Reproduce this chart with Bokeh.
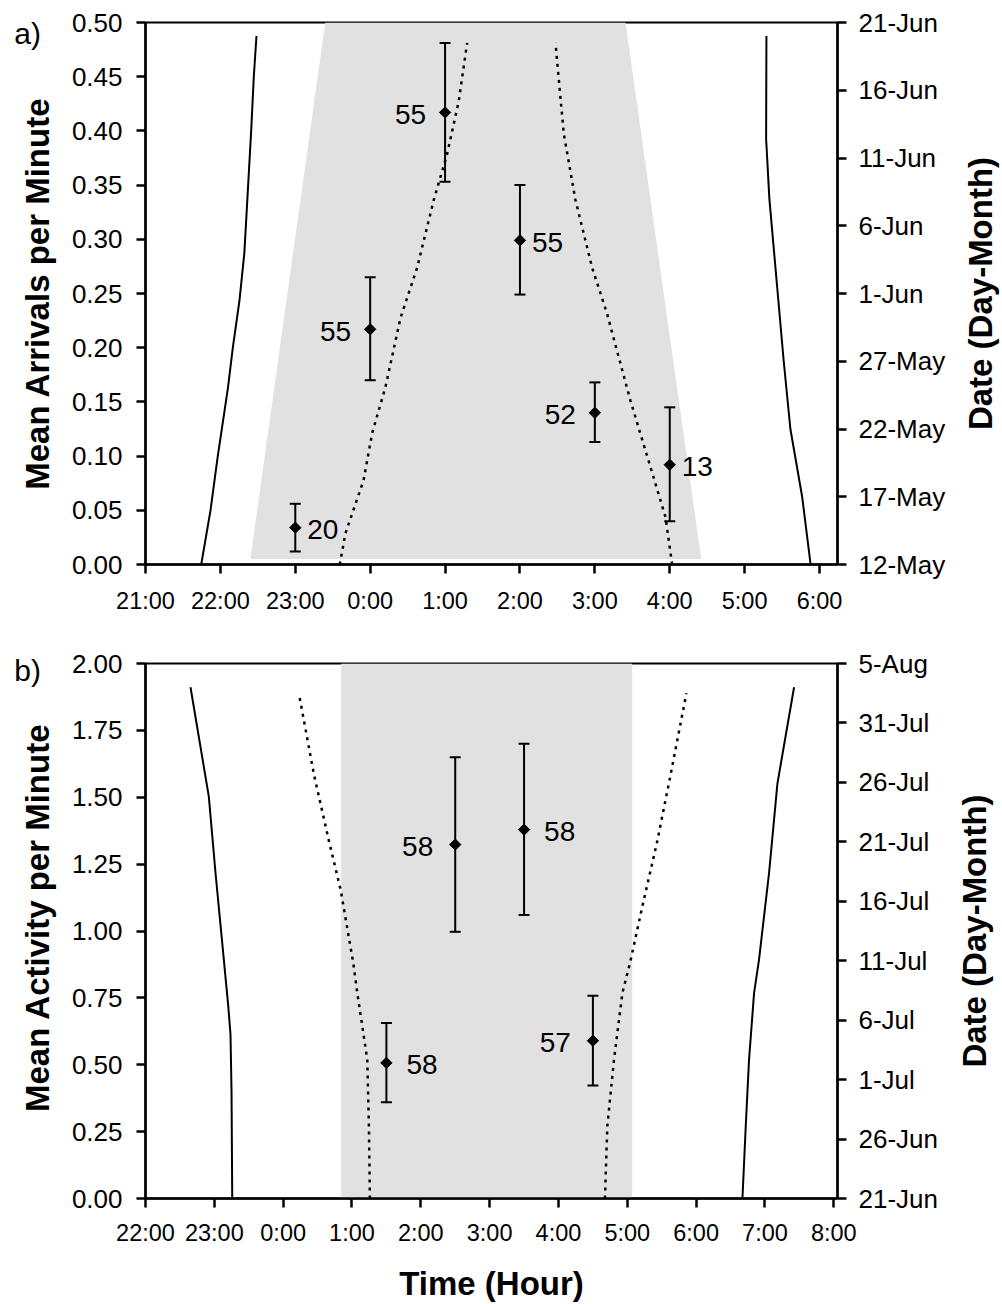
import math
from bokeh.plotting import figure
from bokeh.layouts import column
from bokeh.models import (Range1d, LinearAxis, FixedTicker, ColumnDataSource,
                          Whisker, TeeHead, Label, BoxAnnotation, NumeralTickFormatter)
from bokeh.embed import file_html
from bokeh.resources import INLINE
from bokeh.core.properties import value

FONT = "Liberation Sans"

# ---------------- Panel a data ----------------
a_hour = [23, 24, 25, 26, 27, 28]
a_mean = [0.034, 0.217, 0.417, 0.299, 0.140, 0.092]
a_upper = [0.056, 0.265, 0.481, 0.350, 0.168, 0.145]
a_lower = [0.012, 0.170, 0.353, 0.249, 0.113, 0.040]
a_n = ["20", "55", "55", "55", "52", "13"]
a_side = ["right", "left", "left", "right", "left", "right"]

a_xticks = [21, 22, 23, 24, 25, 26, 27, 28, 29, 30]
a_xlabels = ["21:00", "22:00", "23:00", "0:00", "1:00", "2:00", "3:00", "4:00", "5:00", "6:00"]
a_yticks = [0, 0.05, 0.1, 0.15, 0.2, 0.25, 0.3, 0.35, 0.4, 0.45, 0.5]
a_date_ticks = [0, 5, 10, 15, 20, 25, 30, 35, 40]
a_date_labels = ["12-May", "17-May", "22-May", "27-May", "1-Jun", "6-Jun", "11-Jun", "16-Jun", "21-Jun"]

# night shading (hours, arrivals)
a_night_x = [22.40, 23.40, 27.41, 28.42]
a_night_y = [0.005, 0.50, 0.50, 0.005]

# solid lines (days since 12-May)
a_set_time = [21.744, 21.868, 21.965, 22.100, 22.166, 22.255, 22.320, 22.411, 22.446, 22.482]
a_set_day = [0, 4, 8, 13, 16, 19.5, 23, 32, 36, 39]
a_rise_time = [29.881, 29.768, 29.611, 29.522, 29.434, 29.330, 29.287, 29.291]
a_rise_day = [0, 5, 10, 15, 20.5, 27, 31.4, 39]
# dotted lines
a_dusk_time = [23.594, 23.670, 23.911, 24.027, 24.204, 24.405, 24.627, 24.849, 25.028, 25.183, 25.295]
a_dusk_day = [0, 2.3, 6.2, 9.7, 13.1, 18.2, 21.9, 26.9, 30.3, 34.2, 38.5]
a_dawn_time = [28.032, 27.943, 27.742, 27.475, 27.231, 27.164, 26.964, 26.741, 26.585, 26.474]
a_dawn_day = [0, 3.5, 7.2, 12.1, 17.1, 18.5, 21.9, 26.9, 31.8, 38.5]

# ---------------- Panel b data ----------------
b_hour = [25.5, 26.5, 27.5, 28.5]
b_mean = [0.507, 1.323, 1.379, 0.590]
b_upper = [0.656, 1.650, 1.700, 0.758]
b_lower = [0.360, 0.997, 1.060, 0.422]
b_n = ["58", "58", "58", "57"]
b_side = ["right", "left", "right", "left"]

b_xticks = [22, 23, 24, 25, 26, 27, 28, 29, 30, 31, 32]
b_xlabels = ["22:00", "23:00", "0:00", "1:00", "2:00", "3:00", "4:00", "5:00", "6:00", "7:00", "8:00"]
b_yticks = [0, 0.25, 0.5, 0.75, 1.0, 1.25, 1.5, 1.75, 2.0]
b_date_ticks = [0, 5, 10, 15, 20, 25, 30, 35, 40, 45]
b_date_labels = ["21-Jun", "26-Jun", "1-Jul", "6-Jul", "11-Jul", "16-Jul", "21-Jul", "26-Jul", "31-Jul", "5-Aug"]

b_night_start = 24.843
b_night_end = 29.071

b_set_time = [23.260, 23.250, 23.235, 23.202, 23.138, 23.017, 22.920, 22.654]
b_set_day = [0, 8.9, 13.8, 16.2, 20.1, 27.4, 33.8, 43.0]
b_rise_time = [30.673, 30.721, 30.769, 30.842, 30.914, 31.060, 31.181, 31.423]
b_rise_day = [0, 6.1, 11.7, 17.3, 20.1, 27.4, 34.9, 43.0]
b_dusk_time = [25.260, 25.246, 25.222, 25.077, 25.019, 24.834, 24.664, 24.446, 24.228]
b_dusk_day = [0, 6.1, 11.7, 17.3, 19.8, 26.0, 30.1, 35.7, 42.5]
b_dawn_time = [28.675, 28.710, 28.807, 28.929, 29.039, 29.220, 29.437, 29.631, 29.859]
b_dawn_day = [0, 6.1, 11.7, 17.3, 19.8, 24.6, 30.1, 35.7, 42.5]

SHADE = "#e1e1e1"


def style_axis(ax, standoff, size="26px"):
    ax.axis_line_width = 2.5
    ax.axis_line_color = "black"
    ax.major_tick_line_width = 2.5
    ax.major_tick_line_color = "black"
    ax.major_tick_out = 9
    ax.major_tick_in = 0
    ax.minor_tick_line_color = None
    ax.major_label_text_font = FONT
    ax.major_label_text_font_size = size
    ax.major_label_text_color = "black"
    ax.major_label_standoff = standoff
    ax.axis_label_text_font = FONT
    ax.axis_label_text_font_size = "33px"
    ax.axis_label_text_font_style = "bold"
    ax.axis_label_text_color = "black"


def make_panel(width, height, xr, yr, dr, xticks, xlabels, yticks,
               dticks, dlabels, xlabel, borders, xstandoff):
    p = figure(width=width, height=height, x_range=Range1d(*xr), y_range=Range1d(*yr),
               output_backend="svg", toolbar_location=None, tools="")
    p.min_border_left, p.min_border_right, p.min_border_top, p.min_border_bottom = borders
    p.xgrid.visible = False
    p.ygrid.visible = False
    p.outline_line_color = "black"
    p.outline_line_width = 2
    p.background_fill_color = "white"
    p.border_fill_color = "white"
    p.extra_y_ranges = {"date": Range1d(*dr)}

    xa = p.xaxis[0]
    xa.ticker = FixedTicker(ticks=xticks)
    xa.major_label_overrides = {t: s for t, s in zip(xticks, xlabels)}
    style_axis(xa, xstandoff, "23.5px")
    if xlabel:
        xa.axis_label = xlabel
        xa.axis_label_standoff = 16

    ya = p.yaxis[0]
    ya.ticker = FixedTicker(ticks=yticks)
    ya.formatter = NumeralTickFormatter(format="0.00")
    style_axis(ya, 14)

    ra = LinearAxis(y_range_name="date")
    ra.ticker = FixedTicker(ticks=dticks)
    ra.major_label_overrides = {t: s for t, s in zip(dticks, dlabels)}
    style_axis(ra, 12)
    p.add_layout(ra, "right")
    return p


def draw_points(p, hours, mean, upper, lower, ns, sides, left_off, right_off):
    src = ColumnDataSource(dict(x=hours, mean=mean, upper=upper, lower=lower))
    w = Whisker(source=src, base="x", upper="upper", lower="lower",
                line_width=2, line_color="black", level="annotation",
                upper_head=TeeHead(size=11, line_width=2, line_color="black"),
                lower_head=TeeHead(size=11, line_width=2, line_color="black"))
    p.add_layout(w)
    p.scatter("x", "mean", source=src, marker="square", angle=math.pi / 4,
              size=8, fill_color="black", line_color="black")
    for side, align, off in (("left", "right", left_off), ("right", "left", right_off)):
        idx = [i for i, s in enumerate(sides) if s == side]
        p.text(x=[hours[i] for i in idx], y=[mean[i] for i in idx],
               text=[ns[i] for i in idx], x_offset=off, y_offset=2,
               text_font=value(FONT), text_font_size="28px", text_color="black",
               text_align=align, text_baseline="middle")


def border_texts(p, ytitle, yx, yy, letter, lx, ly, dx, dy):
    # left-hand axis title, reading bottom-to-top
    p.add_layout(Label(x=yx, y=yy, text=ytitle, angle=math.pi / 2,
                       text_font=FONT, text_font_size="33px", text_font_style="bold",
                       text_align="center", text_baseline="middle", text_color="black"),
                 "left")
    # panel letter
    p.add_layout(Label(x=lx, y=ly, text=letter, text_font=FONT, text_font_size="30px",
                       text_align="center", text_baseline="middle", text_color="black"),
                 "left")
    # right-hand axis title, reading bottom-to-top
    p.add_layout(Label(x=dx, y=dy, text="Date (Day-Month)", angle=math.pi / 2,
                       text_font=FONT, text_font_size="33px", text_font_style="bold",
                       text_align="center", text_baseline="middle", text_color="black"),
                 "right")


# ---------------- Panel a ----------------
pa = make_panel(1002, 640, (21, 30.24), (0, 0.5), (0, 40), a_xticks, a_xlabels,
                a_yticks, a_date_ticks, a_date_labels, None, (145, 165, 22, 76), 14)
pa.patch(a_night_x, a_night_y, fill_color=SHADE, line_color=None)
pa.line(a_set_time, a_set_day, y_range_name="date", line_color="black", line_width=2)
pa.line(a_rise_time, a_rise_day, y_range_name="date", line_color="black", line_width=2)
pa.line(a_dusk_time, a_dusk_day, y_range_name="date", line_color="black",
        line_width=2.5, line_dash="3 5")
pa.line(a_dawn_time, a_dawn_day, y_range_name="date", line_color="black",
        line_width=2.5, line_dash="3 5")
draw_points(pa, a_hour, a_mean, a_upper, a_lower, a_n, a_side, -19, 12)
border_texts(pa, "Mean Arrivals per Minute", 19.56, 0.25, "a)", 19.425, 0.490, 32.15, 0.25)

# ---------------- Panel b ----------------
pb = make_panel(1002, 664, (22, 32.054), (0, 2.0), (0, 45), b_xticks, b_xlabels,
                b_yticks, b_date_ticks, b_date_labels, "Time (Hour)", (145, 165, 23, 104), 12)
pb.add_layout(BoxAnnotation(left=b_night_start, right=b_night_end, fill_color=SHADE,
                            fill_alpha=1.0, line_color=None, level="underlay"))
pb.line(b_set_time, b_set_day, y_range_name="date", line_color="black", line_width=2)
pb.line(b_rise_time, b_rise_day, y_range_name="date", line_color="black", line_width=2)
pb.line(b_dusk_time, b_dusk_day, y_range_name="date", line_color="black",
        line_width=2.5, line_dash="3 5")
pb.line(b_dawn_time, b_dawn_day, y_range_name="date", line_color="black",
        line_width=2.5, line_dash="3 5")
draw_points(pb, b_hour, b_mean, b_upper, b_lower, b_n, b_side, -22, 20)
border_texts(pb, "Mean Activity per Minute", 20.431, 1.05, "b)", 20.286, 1.973, 34.05, 1.0)

layout = column(pa, pb, spacing=0)
open("out.html", "w").write(file_html(layout, INLINE))
